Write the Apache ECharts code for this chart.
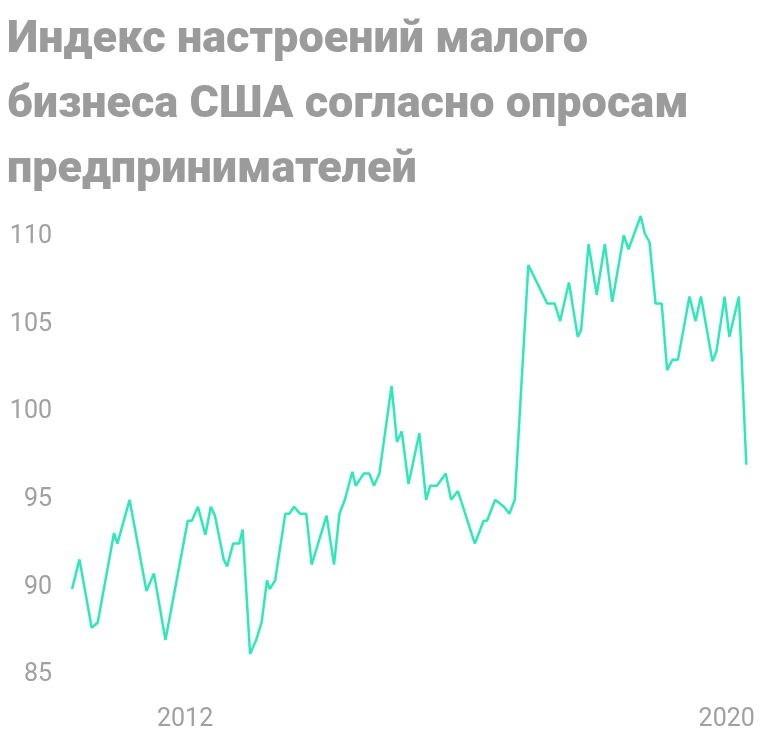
<!DOCTYPE html><html><head><meta charset="utf-8">
<script src="https://cdn.jsdelivr.net/npm/echarts@6/dist/echarts.min.js"></script>
<style>html,body{margin:0;padding:0;background:#fff}#c{width:768px;height:742px}</style></head><body><div id="c"></div>
<script>
const titleText = "Индекс настроений малого\nбизнеса США согласно опросам\nпредпринимателей";
const years = [2010.33,2010.44,2010.62,2010.71,2010.95,2011.00,2011.18,2011.43,2011.54,2011.71,2012.04,2012.10,2012.19,2012.30,2012.38,2012.44,2012.57,2012.62,2012.71,2012.80,2012.85,2012.96,2013.05,2013.13,2013.21,2013.25,2013.33,2013.48,2013.54,2013.61,2013.70,2013.79,2013.87,2014.09,2014.20,2014.28,2014.36,2014.47,2014.52,2014.64,2014.72,2014.79,2014.87,2015.05,2015.13,2015.20,2015.30,2015.46,2015.56,2015.62,2015.72,2015.85,2015.93,2016.03,2016.28,2016.41,2016.46,2016.58,2016.71,2016.79,2016.87,2017.07,2017.35,2017.46,2017.54,2017.67,2017.80,2017.85,2017.96,2018.08,2018.20,2018.31,2018.48,2018.55,2018.73,2018.79,2018.86,2018.95,2019.04,2019.12,2019.20,2019.28,2019.45,2019.54,2019.62,2019.79,2019.85,2019.97,2020.04,2020.18,2020.29];
const values = [89.9,91.6,87.7,88.0,93.1,92.5,95.0,89.8,90.8,87.0,93.8,93.8,94.6,93.0,94.6,94.1,91.6,91.2,92.5,92.5,93.3,86.2,87.0,88.0,90.4,89.9,90.4,94.2,94.2,94.6,94.2,94.2,91.3,94.1,91.3,94.2,95.0,96.6,95.8,96.5,96.5,95.8,96.5,101.5,98.3,98.9,95.9,98.8,95.0,95.8,95.8,96.5,95.0,95.5,92.5,93.8,93.8,95.0,94.6,94.2,95.0,108.4,106.2,106.2,105.2,107.4,104.3,104.7,109.6,106.7,109.6,106.3,110.1,109.3,111.2,110.2,109.7,106.2,106.2,102.4,103.0,103.0,106.6,105.2,106.6,102.9,103.5,106.6,104.3,106.6,97.0];
const xTickLabels = [2012, 2020];
const yTicks = {min:85, max:115, interval:5};
const chart = echarts.init(document.getElementById('c'));
chart.setOption({
  animation:false,
  title:{text:titleText,left:2,top:3,textStyle:{fontFamily:'Roboto',fontWeight:900,fontSize:45,color:'#9b9b9b',lineHeight:65}},
  grid:{left:70,right:21,top:149.4,bottom:67,containLabel:false},
  xAxis:{type:'value',min:2010.3,max:2020.3,axisLine:{show:false},axisTick:{show:false},splitLine:{show:false},
    axisLabel:{customValues:xTickLabels,formatter:v=>String(v),color:'#a0a0a0',fontSize:25,fontFamily:'Roboto',margin:32}},
  yAxis:{type:'value',min:yTicks.min,max:yTicks.max,interval:yTicks.interval,axisLine:{show:false},axisTick:{show:false},splitLine:{show:false},
    axisLabel:{color:'#a0a0a0',fontSize:25,fontFamily:'Roboto',margin:18,formatter:v=>v>110?'':String(v)}},
  series:[{type:'line',data:years.map((y,i)=>[y,values[i]]),showSymbol:false,lineStyle:{color:'#2ee8b9',width:2.5}}]
});
</script></body></html>
